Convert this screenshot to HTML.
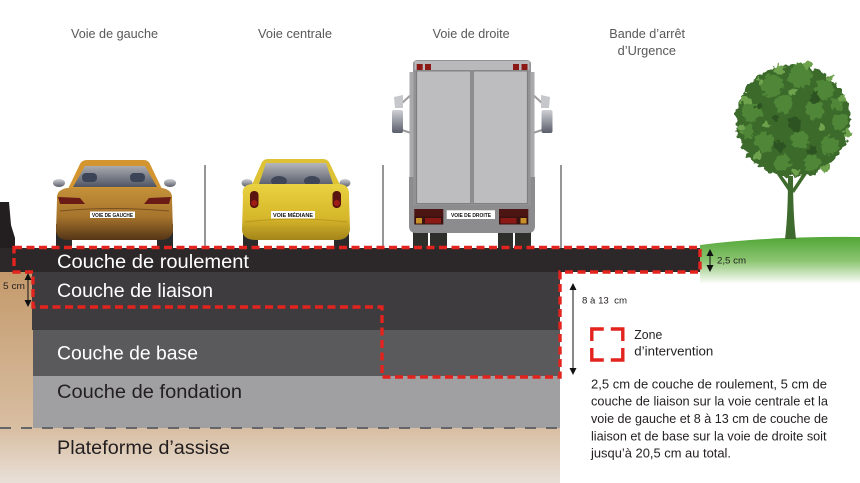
<!DOCTYPE html>
<html><head><meta charset="utf-8"><style>
html,body{margin:0;padding:0;background:#fff;}
svg{display:block;}
text{font-family:"Liberation Sans",sans-serif;}
</style></head><body>
<svg width="860" height="483" viewBox="0 0 860 483" xmlns="http://www.w3.org/2000/svg">
<defs>
<linearGradient id="tan" x1="0" y1="272" x2="0" y2="483" gradientUnits="userSpaceOnUse">
<stop offset="0" stop-color="#c49a6b"/>
<stop offset="0.74" stop-color="#d8bea2"/>
<stop offset="1" stop-color="#e9e0d8"/>
</linearGradient>
<linearGradient id="grass" x1="0" y1="238" x2="0" y2="284" gradientUnits="userSpaceOnUse">
<stop offset="0" stop-color="#55a83a"/>
<stop offset="0.5" stop-color="#8cc572"/>
<stop offset="1" stop-color="#ffffff"/>
</linearGradient>
<linearGradient id="car1" x1="0" y1="186" x2="0" y2="242" gradientUnits="userSpaceOnUse">
<stop offset="0" stop-color="#c6923a"/>
<stop offset="0.55" stop-color="#a6742c"/>
<stop offset="1" stop-color="#4e2f15"/>
</linearGradient>
<linearGradient id="car2" x1="0" y1="183" x2="0" y2="242" gradientUnits="userSpaceOnUse">
<stop offset="0" stop-color="#ead342"/>
<stop offset="0.6" stop-color="#d6b62a"/>
<stop offset="1" stop-color="#9e7f18"/>
</linearGradient>
<linearGradient id="win" x1="0" y1="162" x2="0" y2="188" gradientUnits="userSpaceOnUse">
<stop offset="0" stop-color="#babbbe"/>
<stop offset="1" stop-color="#4c5160"/>
</linearGradient>
<linearGradient id="mir" x1="0" y1="0" x2="0" y2="1">
<stop offset="0" stop-color="#d0d1d5"/>
<stop offset="1" stop-color="#5a5e6b"/>
</linearGradient>
<filter id="leaf" x="-15%" y="-15%" width="130%" height="130%">
<feTurbulence type="fractalNoise" baseFrequency="0.18" numOctaves="2" seed="4" result="n"/>
<feDisplacementMap in="SourceGraphic" in2="n" scale="9" xChannelSelector="R" yChannelSelector="G"/>
</filter>
</defs>

<!-- Top labels -->
<g fill="#58585a" font-size="12.5">
<text x="71" y="38" textLength="87" lengthAdjust="spacingAndGlyphs">Voie de gauche</text>
<text x="258" y="38" textLength="74" lengthAdjust="spacingAndGlyphs">Voie centrale</text>
<text x="432.7" y="38" textLength="77" lengthAdjust="spacingAndGlyphs">Voie de droite</text>
<text x="609.3" y="38" textLength="75.7" lengthAdjust="spacingAndGlyphs">Bande d’arrêt</text>
<text x="617.7" y="55" textLength="58.3" lengthAdjust="spacingAndGlyphs">d’Urgence</text>
</g>

<!-- lane separators -->
<g stroke="#5e5e60" stroke-width="1.3">
<line x1="205" y1="165" x2="205" y2="248"/>
<line x1="383" y1="165" x2="383" y2="248"/>
<line x1="561" y1="165" x2="561" y2="248"/>
</g>

<!-- Left barrier -->
<path d="M0,202 L9,202 L11,225 L15,238 L15,250 L0,250 Z" fill="#231f20"/>

<!-- Car 1 (left, orange/brown) -->
<g>
<rect x="56" y="224" width="16" height="24" fill="#2a2a2a"/>
<rect x="157" y="224" width="16" height="24" fill="#2a2a2a"/>
<ellipse cx="59" cy="183" rx="6" ry="4" fill="url(#mir)"/>
<ellipse cx="170" cy="183" rx="6" ry="4" fill="url(#mir)"/>
<path d="M67,191 L80,164 Q82,160 87,160 L144,160 Q148,160 150,164 L163,191 Z" fill="#d39530"/>
<path d="M73,187 L85,166 L145,166 L157,187 Z" fill="url(#win)"/>
<rect x="82" y="173" width="15" height="9" rx="4" fill="#3b4557"/>
<rect x="130" y="173" width="15" height="9" rx="4" fill="#3b4557"/>
<path d="M57,199 Q56,190 67,188 L162,188 Q173,190 172,199 L173,231 Q171,240 160,240 L69,240 Q57,240 56,231 Z" fill="url(#car1)"/>
<path d="M58,197 L80,198 L85,204 L60,204 Z" fill="#6a1b15"/>
<path d="M171,197 L149,198 L144,204 L169,204 Z" fill="#6a1b15"/>
<path d="M60,211 Q114,206 169,211" stroke="#7a5020" stroke-width="1" fill="none"/>
<rect x="90" y="211.5" width="45" height="6.5" fill="#fff"/>
<text x="92" y="216.8" font-size="5" font-weight="bold" fill="#111" textLength="41" lengthAdjust="spacingAndGlyphs">VOIE DE GAUCHE</text>
</g>

<!-- Car 2 (middle, yellow) -->
<g>
<rect x="243" y="224" width="15" height="24" fill="#2a2a2a"/>
<rect x="334" y="224" width="15" height="24" fill="#2a2a2a"/>
<ellipse cx="247" cy="183" rx="5.5" ry="4" fill="url(#mir)"/>
<ellipse cx="345" cy="183" rx="5.5" ry="4" fill="url(#mir)"/>
<path d="M251,187 L262,162 Q264,159 268,159 L323,159 Q327,159 329,162 L341,187 Z" fill="#dcc234"/>
<path d="M259,184 L266,163 L326,163 L333,184 Z" fill="url(#win)"/>
<ellipse cx="279" cy="181" rx="8" ry="5" fill="#3f4658"/>
<ellipse cx="312" cy="181" rx="8" ry="5" fill="#3f4658"/>
<path d="M243,196 Q241,185 252,184 L340,184 Q350,185 349,196 L350,230 Q348,240 337,240 L256,240 Q243,240 242,230 Z" fill="url(#car2)"/>
<rect x="250" y="191" width="8.5" height="17" rx="4" fill="#5b1410"/>
<circle cx="254.2" cy="203" r="3" fill="#a01c17"/>
<rect x="332.5" y="191" width="8.5" height="17" rx="4" fill="#5b1410"/>
<circle cx="336.8" cy="203" r="3" fill="#a01c17"/>
<path d="M245,222 Q296,216 347,222" stroke="#b9991e" stroke-width="1" fill="none"/>
<rect x="271" y="211" width="44" height="7.5" fill="#fff"/>
<text x="273" y="216.8" font-size="5" font-weight="bold" fill="#111" textLength="40" lengthAdjust="spacingAndGlyphs">VOIE MÉDIANE</text>
</g>

<!-- Truck -->
<g>
<rect x="413" y="230" width="15" height="18" fill="#2e2e2a"/>
<rect x="430" y="230" width="17" height="18" fill="#2e2e2a"/>
<rect x="498" y="230" width="15" height="18" fill="#2e2e2a"/>
<rect x="515" y="230" width="16" height="18" fill="#2e2e2a"/>
<g stroke="#9c9b9d" stroke-width="2" fill="none">
<path d="M414,92 L401,104"/><path d="M414,134 L402,130"/>
<path d="M530,92 L543,104"/><path d="M530,134 L542,130"/>
</g>
<path d="M394,97 L403,95 L403,108 L395,108 Z" fill="#c6c7cb"/>
<rect x="392" y="110" width="11" height="23" rx="2" fill="url(#mir)"/>
<path d="M541,95 L550,97 L549,108 L541,108 Z" fill="#c6c7cb"/>
<rect x="541.5" y="110" width="11" height="23" rx="2" fill="url(#mir)"/>
<path d="M409,177 L535,177 L535,226 Q535,233 528,233 L416,233 Q409,233 409,226 Z" fill="#8c8b8d"/>
<path d="M413,64 Q413,60 418,60 L526,60 Q531,60 531,64 L531,205 L413,205 Z" fill="#929193"/>
<rect x="409.5" y="72" width="4" height="105" fill="#a9a8aa"/>
<rect x="530.5" y="72" width="4" height="105" fill="#a9a8aa"/>
<rect x="414.5" y="61" width="115" height="9" fill="#b9b8ba"/>
<rect x="416.7" y="64" width="6" height="6" fill="#8b1a16"/>
<rect x="425" y="64" width="6" height="6" fill="#8b1a16"/>
<rect x="513" y="64" width="6" height="6" fill="#8b1a16"/>
<rect x="521.5" y="64" width="6" height="6" fill="#8b1a16"/>
<rect x="416.7" y="71" width="54" height="132.5" fill="#bdbcbe" stroke="#767577" stroke-width="0.8"/>
<rect x="473.3" y="71" width="54" height="132.5" fill="#bdbcbe" stroke="#767577" stroke-width="0.8"/>
<rect x="414.3" y="209" width="29" height="7.5" fill="#4a1512"/>
<rect x="414.3" y="216.5" width="29" height="8" fill="#3a1210"/>
<rect x="416" y="218" width="6" height="5.5" fill="#c8902a"/>
<rect x="425" y="218" width="16" height="5.5" fill="#8b1a16"/>
<rect x="499" y="209" width="29.3" height="7.5" fill="#4a1512"/>
<rect x="499" y="216.5" width="29.3" height="8" fill="#3a1210"/>
<rect x="500.5" y="218" width="16" height="5.5" fill="#8b1a16"/>
<rect x="520.5" y="218" width="6" height="5.5" fill="#c8902a"/>
<rect x="446.7" y="210.3" width="48.3" height="8.7" fill="#fff"/>
<text x="451" y="216.8" font-size="5.2" font-weight="bold" fill="#111" textLength="40" lengthAdjust="spacingAndGlyphs">VOIE DE DROITE</text>
</g>

<!-- Grass -->
<path d="M700,245 Q770,236 860,237 L860,284 L700,284 Z" fill="url(#grass)"/>

<!-- Tree -->
<g>
<path d="M785,239 Q788,215 788,176 L793,176 Q793,215 796,239 Z" fill="#3f6a2d"/>
<path d="M789,192 L774,170 L777,169 L791,188 Z" fill="#3f6a2d"/>
<path d="M792,190 L808,166 L811,168 L794,193 Z" fill="#3f6a2d"/>
<g filter="url(#leaf)">
<ellipse cx="793" cy="121" rx="57" ry="56" fill="#3b6a2a"/>
<g fill="#4f8637">
<circle cx="772" cy="86" r="11"/><circle cx="800" cy="76" r="12"/><circle cx="824" cy="90" r="10"/>
<circle cx="752" cy="112" r="10"/><circle cx="784" cy="104" r="9"/><circle cx="815" cy="110" r="9"/>
<circle cx="840" cy="122" r="8"/><circle cx="764" cy="142" r="10"/><circle cx="800" cy="140" r="9"/>
<circle cx="830" cy="146" r="9"/><circle cx="782" cy="163" r="8"/><circle cx="812" cy="163" r="8"/>
<circle cx="748" cy="132" r="7"/><circle cx="836" cy="104" r="7"/>
</g>
<g fill="#6ea24d">
<circle cx="780" cy="70" r="5"/><circle cx="808" cy="66" r="4"/><circle cx="746" cy="100" r="5"/>
<circle cx="842" cy="98" r="4"/><circle cx="741" cy="128" r="4"/><circle cx="848" cy="134" r="4"/>
<circle cx="758" cy="156" r="4"/><circle cx="826" cy="168" r="4"/><circle cx="792" cy="92" r="3.5"/>
<circle cx="766" cy="124" r="3.5"/><circle cx="822" cy="128" r="3.5"/><circle cx="796" cy="172" r="3.5"/>
<circle cx="760" cy="82" r="3"/><circle cx="830" cy="78" r="3"/>
</g>
<g fill="#2d5220">
<circle cx="795" cy="124" r="7"/><circle cx="780" cy="146" r="5"/><circle cx="815" cy="98" r="5"/>
<circle cx="760" cy="106" r="4"/><circle cx="812" cy="150" r="4"/><circle cx="776" cy="118" r="4"/>
</g>
</g>
</g>

<!-- Road layers -->
<rect x="0" y="272" width="33" height="156" fill="url(#tan)"/>
<rect x="0" y="428" width="560" height="55" fill="url(#tan)"/>
<rect x="0" y="248" width="700" height="24" fill="#2c2829"/>
<rect x="32" y="272" width="528" height="58" fill="#3e3c3f"/>
<rect x="33" y="330" width="527" height="46" fill="#5a595c"/>
<rect x="33" y="376" width="527" height="52" fill="#a0a0a3"/>
<line x1="0" y1="428" x2="560" y2="428" stroke="#66666a" stroke-width="2" stroke-dasharray="11 10"/>

<!-- Layer labels -->
<g font-size="19">
<text x="57" y="268" fill="#fff" textLength="192" lengthAdjust="spacingAndGlyphs">Couche de roulement</text>
<text x="57" y="297" fill="#fff" textLength="156" lengthAdjust="spacingAndGlyphs">Couche de liaison</text>
<text x="57" y="359.5" fill="#fff" textLength="141" lengthAdjust="spacingAndGlyphs">Couche de base</text>
<text x="57" y="398" fill="#231f20" textLength="185" lengthAdjust="spacingAndGlyphs">Couche de fondation</text>
<text x="57" y="454" fill="#231f20" textLength="173" lengthAdjust="spacingAndGlyphs">Plateforme d’assise</text>
</g>

<!-- Red dashed intervention zone -->
<path d="M14,247.5 L700,247.5 L700,272 L560,272 L560,377 L382,377 L382,307 L33,307 L33,272 L14,272 Z" fill="none" stroke="#e2231e" stroke-width="3.4" stroke-dasharray="8 4.5"/>

<!-- Arrows -->
<g stroke="#111" stroke-width="1">
<line x1="28" y1="278" x2="28" y2="302"/>
<line x1="710" y1="254" x2="710" y2="267"/>
<line x1="573" y1="289" x2="573" y2="369"/>
</g>
<g fill="#111">
<path d="M24.5,280 L31.5,280 L28,273 Z"/><path d="M24.5,300 L31.5,300 L28,307 Z"/>
<path d="M706.5,256 L713.5,256 L710,249 Z"/><path d="M706.5,265 L713.5,265 L710,272 Z"/>
<path d="M569.5,290 L576.5,290 L573,283 Z"/><path d="M569.5,368 L576.5,368 L573,375 Z"/>
</g>
<g font-size="9" fill="#231f20">
<text x="3" y="289" textLength="22" lengthAdjust="spacingAndGlyphs">5 cm</text>
<text x="717" y="263.5" textLength="29" lengthAdjust="spacingAndGlyphs">2,5 cm</text>
<text x="582" y="303.5" textLength="45" lengthAdjust="spacingAndGlyphs" xml:space="preserve">8 à 13  cm</text>
</g>

<!-- Legend -->
<rect x="591.8" y="329" width="31" height="31" fill="none" stroke="#e2231e" stroke-width="3.4" stroke-dasharray="24 7" stroke-dashoffset="12"/>
<g font-size="12.5" fill="#231f20">
<text x="634.3" y="339" textLength="28" lengthAdjust="spacingAndGlyphs">Zone</text>
<text x="634.3" y="355.7" textLength="79" lengthAdjust="spacingAndGlyphs">d’intervention</text>
<text x="591" y="388.3" textLength="236" lengthAdjust="spacingAndGlyphs">2,5 cm de couche de roulement, 5 cm de</text>
<text x="591" y="405.6" textLength="237" lengthAdjust="spacingAndGlyphs">couche de liaison sur la voie centrale et la</text>
<text x="591" y="423" textLength="237" lengthAdjust="spacingAndGlyphs">voie de gauche et 8 à 13 cm de couche de</text>
<text x="591" y="440.3" textLength="235.5" lengthAdjust="spacingAndGlyphs">liaison et de base sur la voie de droite soit</text>
<text x="591" y="457.6" textLength="140" lengthAdjust="spacingAndGlyphs">jusqu’à 20,5 cm au total.</text>
</g>
</svg>
</body></html>
